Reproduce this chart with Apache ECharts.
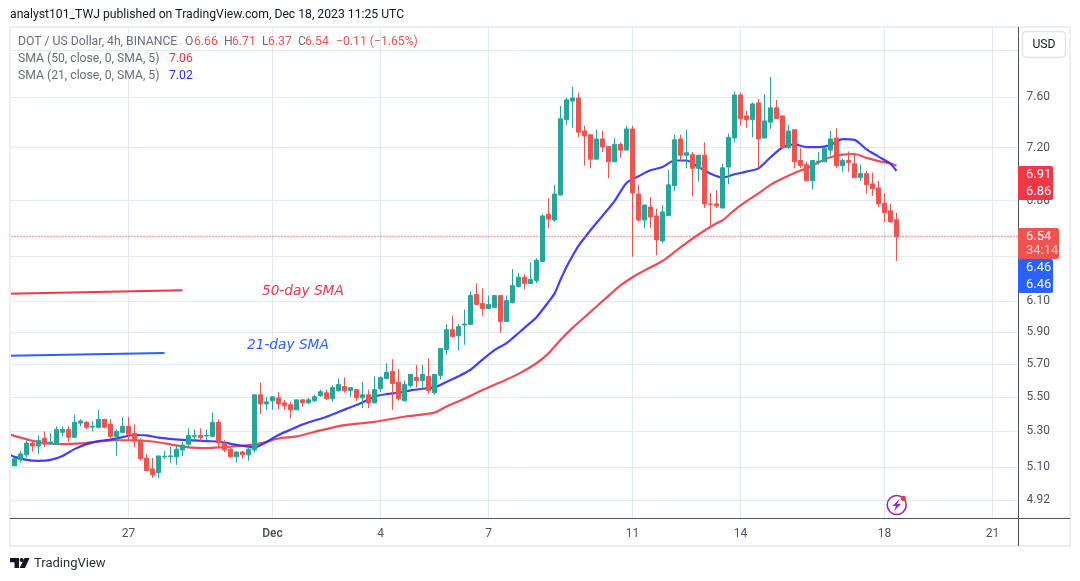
<!DOCTYPE html>
<html>
<head>
<meta charset="utf-8">
<title>DOT / US Dollar, 4h</title>
<script src="https://cdn.jsdelivr.net/npm/echarts@6/dist/echarts.min.js"></script>
<style>
  html, body { margin: 0; padding: 0; background: #fff; }
  #chart { width: 1080px; height: 581px; }
</style>
</head>
<body>
<div id="chart"></div>
<script>
// 4h candles, oldest first
const opens = [
  5.107,5.14,5.168,5.234,5.217,5.261,5.232,5.228,5.295,5.312,
  5.267,5.348,5.353,5.325,5.324,5.37,5.341,5.272,5.295,5.33,
  5.29,5.245,5.15,5.09,5.07,5.157,5.158,5.157,5.195,5.228,
  5.272,5.278,5.274,5.272,5.353,5.234,5.20,5.157,5.184,5.168,
  5.195,5.514,5.46,5.478,5.496,5.466,5.455,5.425,5.484,5.466,
  5.478,5.508,5.526,5.49,5.538,5.563,5.538,5.545,5.496,5.514,
  5.466,5.55,5.612,5.655,5.589,5.478,5.569,5.618,5.60,5.624,
  5.526,5.631,5.79,5.915,5.877,5.945,5.948,6.144,6.085,6.052,
  6.059,6.137,5.968,6.09,6.198,6.26,6.218,6.238,6.367,6.70,
  6.658,6.84,7.42,7.57,7.595,7.33,7.30,7.11,7.267,7.21,
  7.09,7.225,7.18,7.346,6.848,6.658,6.752,6.688,6.51,6.69,
  6.91,7.267,7.14,7.145,7.04,7.14,6.775,6.775,6.745,7.05,
  7.274,7.62,7.45,7.42,7.555,7.274,7.40,7.515,7.45,7.20,
  7.34,7.10,7.068,6.946,7.09,7.09,7.18,7.274,7.06,7.10,
  7.075,6.97,7.0,6.923,6.893,6.78,6.725,6.66
];
const closes = [
  5.146,5.173,5.234,5.217,5.25,5.228,5.24,5.312,5.312,5.267,
  5.353,5.36,5.324,5.33,5.37,5.324,5.272,5.30,5.33,5.284,
  5.245,5.146,5.08,5.058,5.162,5.16,5.162,5.20,5.223,5.278,
  5.276,5.265,5.278,5.353,5.234,5.195,5.157,5.184,5.168,5.20,
  5.514,5.46,5.472,5.502,5.46,5.449,5.425,5.484,5.466,5.484,
  5.502,5.532,5.49,5.557,5.575,5.538,5.557,5.496,5.514,5.466,
  5.545,5.618,5.65,5.582,5.49,5.575,5.637,5.60,5.637,5.538,
  5.637,5.796,5.915,5.871,5.935,5.952,6.137,6.078,6.052,6.078,
  6.137,5.968,6.104,6.203,6.26,6.218,6.245,6.375,6.688,6.665,
  6.848,7.427,7.58,7.595,7.32,7.29,7.11,7.267,7.205,7.09,
  7.225,7.18,7.346,6.855,6.658,6.767,6.68,6.517,6.717,6.916,
  7.26,7.14,7.16,7.04,7.14,6.775,6.77,6.76,7.044,7.28,
  7.62,7.427,7.42,7.547,7.267,7.41,7.515,7.427,7.20,7.33,
  7.09,7.06,6.946,7.10,7.095,7.195,7.267,7.06,7.10,7.083,
  6.97,7.0,6.916,6.886,6.775,6.71,6.645,6.54
];
const lows = [
  5.105,5.125,5.154,5.186,5.173,5.212,5.223,5.223,5.272,5.24,
  5.261,5.33,5.312,5.30,5.318,5.318,5.261,5.162,5.29,5.25,
  5.212,5.135,5.08,5.04,5.04,5.146,5.125,5.112,5.162,5.212,
  5.24,5.24,5.25,5.272,5.207,5.184,5.151,5.125,5.146,5.135,
  5.184,5.40,5.425,5.425,5.428,5.425,5.375,5.425,5.442,5.46,
  5.472,5.502,5.484,5.472,5.532,5.526,5.502,5.478,5.436,5.436,
  5.466,5.532,5.606,5.425,5.478,5.478,5.557,5.557,5.545,5.52,
  5.514,5.606,5.758,5.864,5.785,5.82,5.948,6.078,6.006,6.046,
  6.059,5.896,5.968,6.085,6.19,6.178,6.218,6.22,6.367,6.60,
  6.645,6.84,7.38,7.355,7.28,7.06,7.04,7.11,7.165,6.965,
  7.09,7.12,7.18,6.40,6.645,6.60,6.60,6.41,6.495,6.69,
  6.87,7.09,7.04,6.83,6.94,6.745,6.62,6.745,6.745,6.92,
  7.24,7.37,7.355,7.28,7.04,7.274,7.347,7.427,7.20,7.187,
  7.04,7.044,6.94,6.88,7.068,7.09,7.14,7.044,7.014,7.014,
  6.97,6.946,6.85,6.833,6.752,6.64,6.64,6.37
];
const highs = [
  5.148,5.19,5.25,5.25,5.278,5.30,5.29,5.33,5.33,5.33,
  5.395,5.37,5.36,5.36,5.425,5.37,5.37,5.312,5.383,5.383,
  5.341,5.261,5.173,5.15,5.162,5.19,5.212,5.223,5.24,5.318,
  5.312,5.318,5.312,5.41,5.37,5.25,5.207,5.19,5.19,5.212,
  5.514,5.587,5.502,5.502,5.53,5.484,5.472,5.484,5.484,5.496,
  5.514,5.545,5.545,5.57,5.612,5.618,5.557,5.545,5.593,5.545,
  5.624,5.624,5.705,5.73,5.668,5.60,5.637,5.695,5.695,5.735,
  5.637,5.796,5.952,6.006,5.952,6.046,6.165,6.218,6.185,6.137,
  6.137,6.137,6.137,6.315,6.29,6.28,6.36,6.39,6.70,6.817,
  6.916,7.53,7.60,7.69,7.64,7.37,7.30,7.34,7.33,7.21,
  7.274,7.24,7.37,7.37,6.916,6.767,6.825,6.74,6.767,7.03,
  7.30,7.30,7.34,7.165,7.145,7.24,6.855,6.877,7.075,7.31,
  7.65,7.64,7.49,7.56,7.587,7.627,7.77,7.58,7.45,7.38,
  7.34,7.195,7.09,7.10,7.165,7.195,7.33,7.35,7.115,7.17,
  7.145,7.068,7.023,7.008,6.945,6.855,6.775,6.71
];

// Moving averages as [candle number, value]; -1 is the slot just before the first candle
const sma21 = [
  [-1,5.172],[0,5.157],[2,5.14],[4,5.135],[6,5.14],[8,5.162],[10,5.20],[12,5.228],[14,5.245],[16,5.254],
  [18,5.268],[20,5.28],[22,5.278],[24,5.265],[28,5.252],[32,5.245],[34,5.243],[36,5.23],[38,5.219],[40,5.21],
  [42,5.24],[44,5.28],[46,5.31],[48,5.34],[50,5.363],[52,5.385],[54,5.413],[56,5.44],[58,5.468],[60,5.504],
  [62,5.518],[64,5.526],[66,5.54],[68,5.55],[70,5.558],[72,5.591],[74,5.625],[76,5.665],[78,5.727],[80,5.786],
  [82,5.83],[84,5.894],[86,5.96],[87,5.995],[89,6.095],[90,6.15],[91,6.243],[92,6.33],[93,6.405],[94,6.475],
  [96,6.585],[98,6.688],[100,6.795],[102,6.93],[104,6.98],[106,7.025],[108,7.05],[110,7.10],[112,7.10],[114,7.05],
  [116,7.0],[118,6.97],[120,6.995],[122,7.015],[124,7.04],[126,7.125],[128,7.20],[130,7.225],[132,7.203],[134,7.203],
  [136,7.22],[138,7.265],[140,7.26],[142,7.185],[144,7.13],[146,7.075],[147,7.02]
];
const sma50 = [
  [-1,5.285],[1,5.265],[3,5.247],[5,5.234],[8,5.228],[11,5.232],[14,5.243],[17,5.25],[20,5.25],[23,5.243],
  [26,5.227],[29,5.21],[32,5.206],[35,5.212],[38,5.219],[41,5.232],[44,5.26],[47,5.272],[51,5.306],[55,5.336],
  [60,5.355],[65,5.385],[70,5.409],[72,5.445],[75,5.49],[78,5.542],[81,5.589],[84,5.64],[87,5.705],[89,5.766],
  [91,5.85],[93,5.927],[95,5.995],[97,6.065],[99,6.135],[101,6.205],[103,6.26],[105,6.305],[108,6.37],[111,6.465],
  [114,6.555],[117,6.635],[118,6.655],[120,6.73],[122,6.795],[124,6.853],[126,6.916],[128,6.963],[130,7.005],[132,7.04],
  [134,7.085],[136,7.125],[138,7.145],[140,7.15],[142,7.12],[144,7.095],[146,7.077],[147,7.06]
];

// Hand-drawn trend lines next to the annotations
const drawn50 = [[-1,6.149],[28,6.172]];
const drawn21 = [[-1,5.752],[25,5.768]];

// Time axis: candle number of each labelled date
const dateLabels = { 19:'27', 43:'Dec', 61:'4', 79:'7', 103:'11', 121:'14', 145:'18', 163:'21' };
const slotCount = 169;
const priceGrid = [8.0,7.6,7.2,6.8,6.4,6.1,5.9,5.7,5.5,5.3,5.1,4.92];
const priceTicks = [7.6,7.2,6.8,6.1,5.9,5.7,5.5,5.3,5.1,4.92];
const lastPrice = 6.54;

const GRID = '#e1ecf2', AXIS = '#50535e', TEXT = '#50535e', MUTED = '#6a6d78';
const UP = '#26a69a', DOWN = '#ef5350', RED = '#f23645', BLUE = '#2a2aff', DRAW_BLUE = '#2962ff';
const FONT = 'Roboto, "Noto Sans", sans-serif';

const categories = Array.from({ length: slotCount }, (_, i) => dateLabels[i - 1] || '');
const candleRows = opens.map((o, i) => [i + 1, o, closes[i], lows[i], highs[i]]);
const shift = pts => pts.map(p => [p[0] + 1, p[1]]);

const lineSeries = (name, pts, color, width, z, opacity) => ({
  type: 'line', name, data: shift(pts), smooth: 0.25, symbol: 'none', silent: true, z,
  lineStyle: { color, width, opacity: opacity === undefined ? 1 : opacity }
});

const label = (x, y, text, fill, extra) => ({
  type: 'text', x, y, silent: true, z: 50,
  style: Object.assign({ text, fill, font: '12.2px ' + FONT, verticalAlign: 'middle', align: 'left' }, extra || {})
});
const rule = (x1, y1, x2, y2) => ({
  type: 'line', z: 40, silent: true, shape: { x1, y1, x2, y2 }, style: { stroke: AXIS, lineWidth: 1 }
});
const tag = (x, y, w, h, fill) => ({
  type: 'rect', z: 45, silent: true, shape: { x, y, width: w, height: h, r: 2 }, style: { fill }
});

const graphic = [
  // margin left of the plot, outer frame and axis rules
  { type: 'rect', z: 30, silent: true, shape: { x: 0, y: 20, width: 10, height: 530 }, style: { fill: '#fff' } },
  { type: 'rect', z: 31, silent: true, shape: { x: 10, y: 27, width: 1060, height: 519 },
    style: { fill: 'none', stroke: '#eceef3', lineWidth: 2 } },
  rule(10, 518.5, 1070, 518.5),
  rule(1018.5, 27, 1018.5, 546),

  // headline and study legend
  label(10, 15, 'analyst101_TWJ published on TradingView.com, Dec 18, 2023 11:25 UTC', '#131722'),
  label(18, 42, 'DOT / US Dollar, 4h, BINANCE', MUTED),
  label(185, 42, 'O', MUTED), label(194, 42, '6.66', DOWN),
  label(224, 42, 'H', MUTED), label(232, 42, '6.71', DOWN),
  label(262, 42, 'L', MUTED), label(268, 42, '6.37', DOWN),
  label(298, 42, 'C', MUTED), label(305, 42, '6.54', DOWN),
  label(336, 42, '\u22120.11 (\u22121.65%)', DOWN),
  label(18, 59, 'SMA (50, close, 0, SMA, 5)', MUTED), label(169, 59, '7.06', RED),
  label(18, 76, 'SMA (21, close, 0, SMA, 5)', MUTED), label(169, 76, '7.02', BLUE),

  // annotations on the plot
  label(262, 291, '50-day SMA', RED, { font: 'italic 13.7px "DejaVu Sans", sans-serif' }),
  label(247, 345, '21-day SMA', DRAW_BLUE, { font: 'italic 13.7px "DejaVu Sans", sans-serif' }),

  // currency button
  { type: 'rect', z: 45, silent: true, shape: { x: 1022.5, y: 31.5, width: 43, height: 26, r: 4 },
    style: { fill: '#fff', stroke: '#e0e3eb', lineWidth: 1.5 } },
  label(1044, 44.5, 'USD', '#131722', { align: 'center' }),

  // price tags on the scale
  tag(1018, 166, 35, 34, RED),
  label(1026, 175, '6.91', '#fff', { font: '13px ' + FONT }),
  label(1026, 192, '6.86', '#fff', { font: '13px ' + FONT }),
  tag(1018, 228, 41, 31, DOWN),
  label(1026, 236.5, '6.54', '#fff', { font: '13px ' + FONT }),
  label(1026, 251, '34:14', '#fbd0cf', { font: '13px ' + FONT }),
  tag(1018, 259, 35, 34, DRAW_BLUE),
  label(1026, 268, '6.46', '#fff', { font: '13px ' + FONT }),
  label(1026, 285, '6.46', '#fff', { font: '13px ' + FONT }),

  // lightning badge
  { type: 'circle', z: 45, silent: true, shape: { cx: 896.7, cy: 505, r: 9.5 },
    style: { fill: '#fff', stroke: '#9c27b0', lineWidth: 1.6 } },
  { type: 'polygon', z: 46, silent: true,
    shape: { points: [[899.5,499],[892.5,506],[896,506],[894,511],[901,504],[897.3,504]] }, style: { fill: '#9c27b0' } },
  { type: 'circle', z: 47, silent: true, shape: { cx: 903.3, cy: 498.3, r: 2.6 }, style: { fill: RED } },

  // brand mark
  { type: 'polygon', z: 45, silent: true,
    shape: { points: [[10,558],[19,558],[19,568],[14.5,568],[14.5,562.2],[10,562.2]] }, style: { fill: '#131722' } },
  { type: 'circle', z: 45, silent: true, shape: { cx: 21.6, cy: 560, r: 2 }, style: { fill: '#131722' } },
  { type: 'polygon', z: 45, silent: true,
    shape: { points: [[24.5,558],[29.6,558],[25,568],[19.6,568]] }, style: { fill: '#131722' } },
  label(34, 564, 'TradingView', '#2a2e39', { font: '13px ' + FONT })
];

const chart = echarts.init(document.getElementById('chart'), null, { renderer: 'canvas' });
chart.setOption({
  animation: false,
  backgroundColor: '#fff',
  graphic,
  grid: { left: 5.5, top: 27, width: 1014, height: 491.5 },
  xAxis: {
    type: 'category',
    data: categories,
    boundaryGap: true,
    axisLine: { show: false },
    axisTick: { show: false },
    axisLabel: {
      interval: 0, margin: 9, color: TEXT, fontSize: 12, fontFamily: FONT,
      formatter: v => v === 'Dec' ? '{m|Dec}' : v,
      rich: { m: { fontWeight: 600, fontSize: 12, color: TEXT, fontFamily: FONT } }
    },
    splitLine: {
      show: true, alignWithLabel: true,
      interval: (i, v) => v !== '',
      lineStyle: { color: GRID, width: 1 }
    }
  },
  yAxis: {
    type: 'log',
    logBase: 10,
    min: 4.825,
    max: 8.2,
    position: 'right',
    axisLine: { show: false },
    axisTick: { show: false, customValues: priceGrid },
    axisLabel: {
      customValues: priceTicks, margin: 7, color: TEXT, fontSize: 12, fontFamily: FONT,
      padding: [4, 0, 0, 0],
      formatter: v => Number(v).toFixed(2)
    },
    splitLine: { show: true, lineStyle: { color: GRID, width: 1 } }
  },
  series: [
    lineSeries('SMA 50', sma50, RED, 2.2, 2, 0.9),
    lineSeries('SMA 21', sma21, BLUE, 2.2, 3, 0.9),
    lineSeries('50-day SMA', drawn50, RED, 2, 2),
    lineSeries('21-day SMA', drawn21, DRAW_BLUE, 2, 2),
    {
      type: 'candlestick', name: 'DOT / USD', data: candleRows, barWidth: 4, z: 5, silent: true,
      encode: { x: 0, y: [1, 2, 3, 4] },
      itemStyle: { color: UP, color0: DOWN, borderColor: UP, borderColor0: DOWN, borderWidth: 1 },
      markLine: {
        silent: true, symbol: 'none', animation: false, label: { show: false },
        lineStyle: { color: DOWN, type: [1, 2], width: 1.4 },
        data: [{ yAxis: lastPrice }]
      }
    }
  ]
});
</script>
</body>
</html>
